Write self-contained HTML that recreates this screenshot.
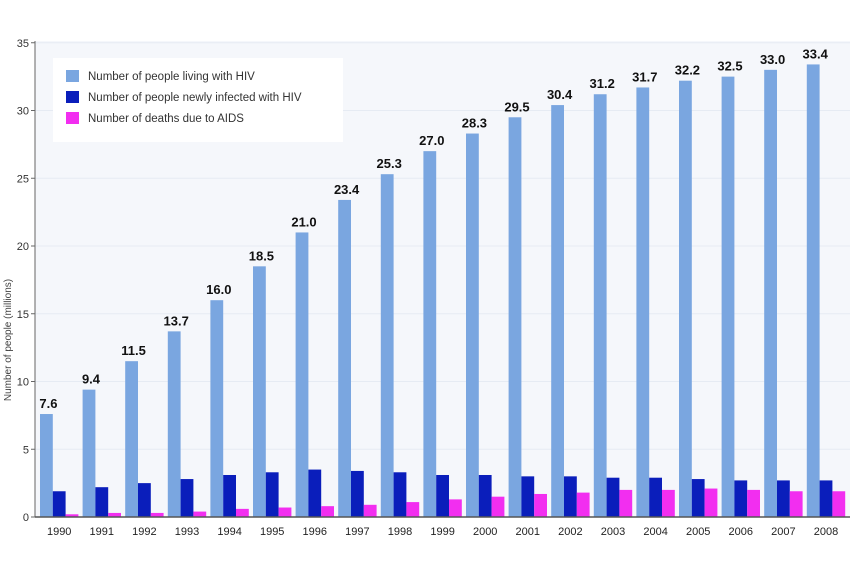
<!DOCTYPE html>
<html><head><meta charset="utf-8"><style>
body{margin:0;background:#fff;font-family:"Liberation Sans",sans-serif}
svg text{font-family:"Liberation Sans",sans-serif}
</style></head><body>
<svg id="chart" width="850" height="566" xmlns="http://www.w3.org/2000/svg">
<rect x="35" y="41" width="815" height="476" fill="#f5f7fb"/>
<g id="grid"></g>
<g id="bars"></g>
<g id="axes"></g>
<g>
<rect x="53" y="58" width="290" height="84" fill="#fff"/>
<rect x="66" y="70" width="13" height="12" fill="#7aa6e0"/>
<text x="88" y="80" font-size="11.5" fill="#333">Number of people living with HIV</text>
<rect x="66" y="91" width="13" height="12" fill="#0a1ebb"/>
<text x="88" y="101" font-size="11.5" fill="#333">Number of people newly infected with HIV</text>
<rect x="66" y="112" width="13" height="12" fill="#f22ef0"/>
<text x="88" y="122" font-size="11.5" fill="#333">Number of deaths due to AIDS</text>
</g>
<text transform="translate(11,340) rotate(-90)" text-anchor="middle" font-size="10" fill="#444">Number of people (millions)</text>
</svg>
<script>
const years=["1990","1991","1992","1993","1994","1995","1996","1997","1998","1999","2000","2001","2002","2003","2004","2005","2006","2007","2008"];
const living=[7.6,9.4,11.5,13.7,16.0,18.5,21.0,23.4,25.3,27.0,28.3,29.5,30.4,31.2,31.7,32.2,32.5,33.0,33.4];
const newly=[1.9,2.2,2.5,2.8,3.1,3.3,3.5,3.4,3.3,3.1,3.1,3.0,3.0,2.9,2.9,2.8,2.7,2.7,2.7];
const deaths=[0.2,0.3,0.3,0.4,0.6,0.7,0.8,0.9,1.1,1.3,1.5,1.7,1.8,2.0,2.0,2.1,2.0,1.9,1.9];
const yTicks=[0,5,10,15,20,25,30,35];
const NS="http://www.w3.org/2000/svg";
const y0=517,k=13.55;
function ys(v){return y0-v*k;}
function xs(i){return 40+i*42.6;}
const bw=12.8;
function mk(t,a,p){const e=document.createElementNS(NS,t);for(const n in a)e.setAttribute(n,a[n]);p.appendChild(e);return e;}
const grid=document.getElementById('grid'),bars=document.getElementById('bars'),axes=document.getElementById('axes');
yTicks.forEach(t=>{
 if(t>0){const g=mk('line',{x1:35,x2:850,y1:ys(t),y2:ys(t),stroke:'#e6ebf3','stroke-width':1},grid);
 
 }
 const tk=mk('line',{x1:31,x2:35,y1:ys(t),y2:ys(t),stroke:'#666'},axes);
 
 
 const tl=mk('text',{x:29,y:ys(t)+4,'text-anchor':'end','font-size':11,fill:'#333'},axes);
 tl.textContent=t;
 
 
});
years.forEach((yr,i)=>{
 const x=xs(i);
 const a=mk('rect',{x:x,y:ys(living[i]),width:bw,height:living[i]*k,fill:'#7aa6e0'},bars);
 
 
 const b=mk('rect',{x:x+bw,y:ys(newly[i]),width:bw,height:newly[i]*k,fill:'#0a1ebb'},bars);
 
 
 const c=mk('rect',{x:x+2*bw,y:ys(deaths[i]),width:bw,height:deaths[i]*k,fill:'#f22ef0'},bars);
 
 
 const v=mk('text',{x:x+bw/2+2,y:ys(living[i])-6,'text-anchor':'middle','font-size':13,'font-weight':'bold',fill:'#111'},bars);
 v.textContent=living[i].toFixed(1);
 
 
 const xl=mk('text',{x:x+bw*1.5,y:535,'text-anchor':'middle','font-size':11,fill:'#222'},axes);
 xl.textContent=yr;
 
 
});
const ax=mk('line',{x1:35,x2:35,y1:41,y2:517,stroke:'#666'},axes);


const bx=mk('line',{x1:35,x2:850,y1:517,y2:517,stroke:'#555','stroke-width':1.5},axes);


</script>
</body></html>
